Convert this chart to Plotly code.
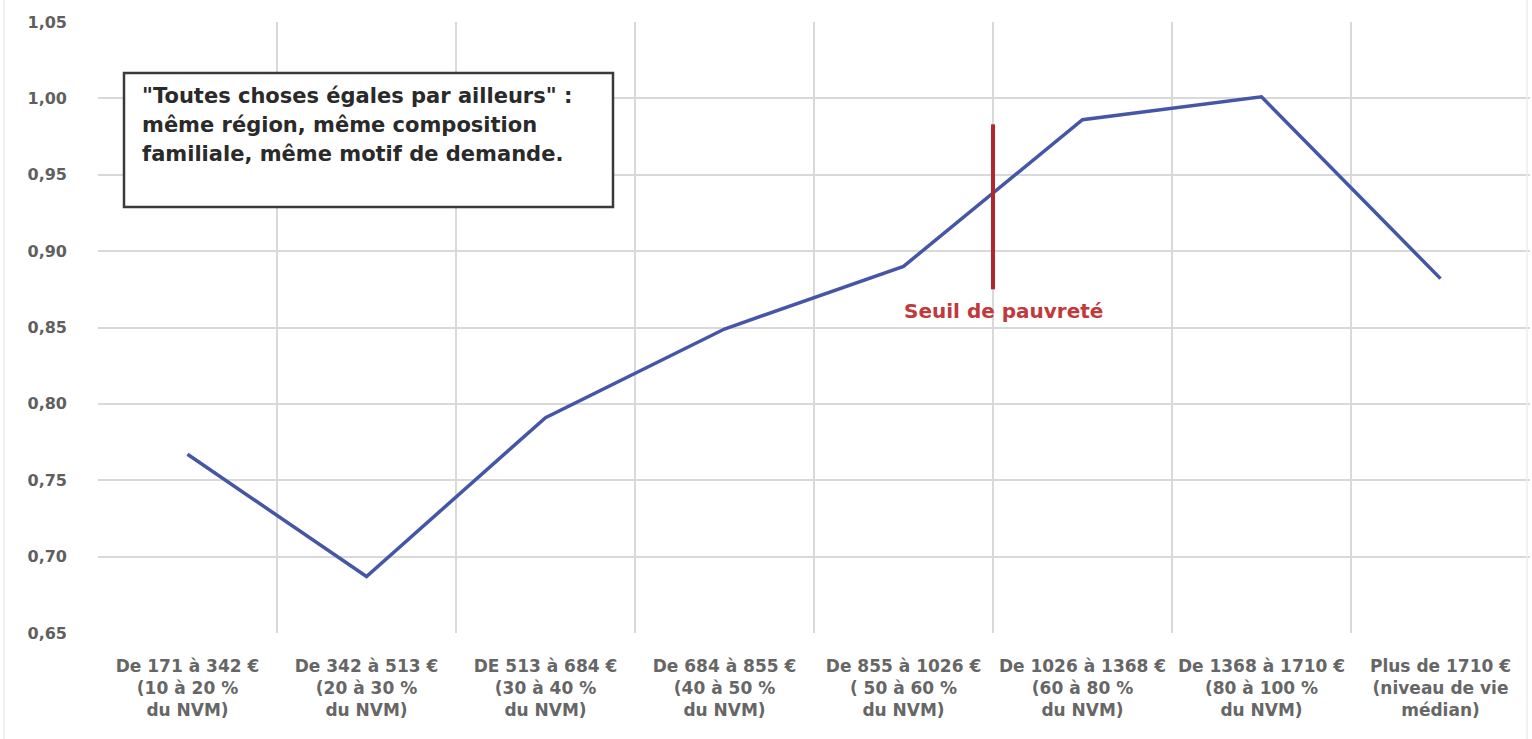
import plotly.graph_objects as go

categories = [
    "De 171 à 342 €<br>(10 à 20 %<br>du NVM)",
    "De 342 à 513 €<br>(20 à 30 %<br>du NVM)",
    "DE 513 à 684 €<br>(30 à 40 %<br>du NVM)",
    "De 684 à 855 €<br>(40 à 50 %<br>du NVM)",
    "De 855 à 1026 €<br>( 50 à 60 %<br>du NVM)",
    "De 1026 à 1368 €<br>(60 à 80 %<br>du NVM)",
    "De 1368 à 1710 €<br>(80 à 100 %<br>du NVM)",
    "Plus de 1710 €<br>(niveau de vie<br>médian)",
]
values = [0.767, 0.687, 0.791, 0.849, 0.890, 0.986, 1.001, 0.882]
y_ticks = [0.65, 0.70, 0.75, 0.80, 0.85, 0.90, 0.95, 1.00, 1.05]
threshold_pos = 4.5
threshold_range = [0.875, 0.983]
threshold_label_y = 0.861
note_lines = [
    "\"Toutes choses égales par ailleurs\" :",
    "même région, même composition",
    "familiale, même motif de demande.",
]
threshold_label = "Seuil de pauvreté"

W, H = 1532, 739
L, R, T, B = 98, 2, 22, 106
PW, PH = W - L - R, H - T - B

xs = list(range(len(categories)))
boundaries = [i - 0.5 for i in range(len(categories) + 1)]

fig = go.Figure()
fig.add_trace(go.Scatter(
    x=xs, y=values, mode="lines",
    line=dict(color="#4656a6", width=3.5),
    showlegend=False, hoverinfo="skip",
))
fig.add_trace(go.Scatter(
    x=[threshold_pos, threshold_pos], y=threshold_range, mode="lines",
    line=dict(color="#b3262e", width=4),
    showlegend=False, hoverinfo="skip",
))
fig.add_trace(go.Scatter(
    x=boundaries, y=[None] * len(boundaries), xaxis="x2", mode="lines",
    showlegend=False, hoverinfo="skip",
))

font_family = "'DejaVu Sans', sans-serif"

fig.update_layout(
    width=W, height=H,
    margin=dict(l=L, r=R, t=T, b=B, autoexpand=False),
    paper_bgcolor="white", plot_bgcolor="white",
    separators=", ",
    font=dict(family=font_family, color="#5f5f5f", weight="bold"),
    xaxis=dict(
        range=[-0.5, len(categories) - 0.5],
        tickvals=xs, ticktext=categories,
        showgrid=False, zeroline=False, showline=False,
        ticks="", tickfont=dict(size=17, color="#666666", weight="bold"),
        ticklabelstandoff=21,
    ),
    xaxis2=dict(
        overlaying="x", range=[-0.5, len(categories) - 0.5],
        tickvals=boundaries, showticklabels=False,
        showgrid=True, gridcolor="#d9d9d9", gridwidth=1.6,
        zeroline=False, showline=False, ticks="",
    ),
    yaxis=dict(
        range=[0.65, 1.05], tickvals=y_ticks, tickformat=".2f",
        showgrid=True, gridcolor="#d9d9d9", gridwidth=1.6,
        zeroline=False, showline=False, ticks="",
        tickfont=dict(size=16, color="#5f5f5f", weight="bold"),
        ticklabelstandoff=30,
    ),
)

# note box
fig.add_shape(
    type="rect", xref="paper", yref="paper",
    x0=(124 - L) / PW, x1=(613 - L) / PW,
    y0=(H - B - 207) / PH, y1=(H - B - 73) / PH,
    line=dict(color="#3a3a3a", width=2.5), fillcolor="white", layer="above",
)
for i, line_text in enumerate(note_lines):
    fig.add_annotation(
        xref="paper", yref="paper", x=(141 - L) / PW,
        y=(H - B - (96 + 29 * i)) / PH,
        xanchor="left", yanchor="middle", align="left",
        text=line_text, showarrow=False, borderpad=0,
        font=dict(family=font_family, size=21, color="#2a2a2a", weight="bold"),
    )
fig.add_annotation(
    x=threshold_pos, y=threshold_label_y, xref="x", yref="y",
    xshift=10, xanchor="center", yanchor="middle",
    text=threshold_label, showarrow=False,
    font=dict(family=font_family, size=20, color="#c0393b", weight="bold"),
)
# faint outer chart border
for px in (4, 1527):
    fig.add_shape(
        type="line", xref="paper", yref="paper",
        x0=(px - L) / PW, x1=(px - L) / PW, y0=-B / PH, y1=(H - B) / PH,
        line=dict(color="#ececec", width=1.5),
    )

fig.write_html(
    "out.html",
    config={"displayModeBar": False},
    post_script="document.body.style.margin='0';document.body.style.overflow='hidden';",
)
